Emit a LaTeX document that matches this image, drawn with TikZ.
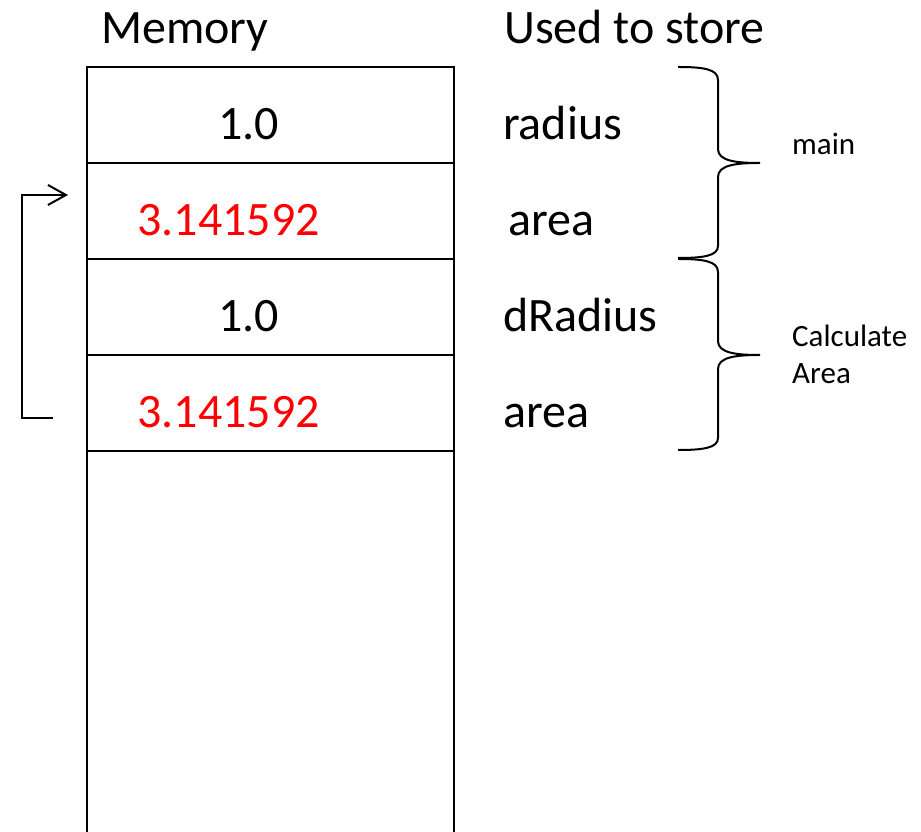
\documentclass[tikz,border=0pt]{standalone}
\usepackage{fontspec}
\setmainfont{Carlito}
\usetikzlibrary{positioning, arrows.meta}

\begin{document}
\begin{tikzpicture}[x=1pt, y=1pt,
    cell/.style={draw, line width=2.8pt, minimum width=367pt, minimum height=96pt,
      inner sep=0pt, outer sep=0pt},
    big/.style={font=\fontsize{48}{58}\selectfont, inner sep=0pt},
    small/.style={font=\fontsize{31}{37}\selectfont, inner sep=0pt, align=left},
    val/.style={big, anchor=base},
    var/.style={big, anchor=base west},
    brace/.style={line width=2pt},
    back/.style={line width=2pt, -{Straight Barb[length=18pt, width=20pt]}}]

  \useasboundingbox (0,0) rectangle (921,832);

  % the stack of cells
  \node[cell] (c1) at (270.5,717) {};
  \node[cell, below=0pt of c1] (c2) {};
  \node[cell, below=0pt of c2] (c3) {};
  \node[cell, below=0pt of c3] (c4) {};
  \draw[line width=2.8pt] (c4.south west) -- (c4.south west |- 0,0);
  \draw[line width=2.8pt] (c4.south east) -- (c4.south east |- 0,0);

  % headings
  \node[var] (mem) at (101,788) {Memory};
  \node[var] (use) at (504,788) {Used to store};

  % values
  \node[val] (v1) at ([xshift=-22pt, yshift=-25pt]c1.center) {1.0};
  \node[val, text=red] (v2) at ([xshift=-42pt, yshift=-25pt]c2.center) {3.141592};
  \node[val] (v3) at ([xshift=-22pt, yshift=-25pt]c3.center) {1.0};
  \node[val, text=red] (v4) at ([xshift=-42pt, yshift=-25pt]c4.center) {3.141592};

  % variable names
  \node[var] (n1) at ([xshift=49pt, yshift=-25pt]c1.east) {radius};
  \node[var] (n2) at ([xshift=54pt, yshift=-25pt]c2.east) {area};
  \node[var] (n3) at ([xshift=49pt, yshift=-25pt]c3.east) {dRadius};
  \node[var] (n4) at ([xshift=49pt, yshift=-25pt]c4.east) {area};

  % braces
  \foreach \s in {0,-192} {
    \draw[brace, yshift=\s] (678,765) .. controls (703,765) and (718,763) .. (718,752)
      -- (718,683) .. controls (718,671) and (736,669) .. (760,669)
      .. controls (736,669) and (718,667) .. (718,655)
      -- (718,586) .. controls (718,576) and (703,574) .. (678,574);
  }
  \node[small, anchor=base west] (f1) at (792,677) {main};
  \node[small, anchor=base west] (f2) at (792,448) {Calculate\\Area};

  % return arrow
  \coordinate (ret) at ([xshift=-34pt, yshift=-15pt]c4.west);
  \coordinate (call) at ([xshift=-19pt, yshift=16pt]c2.west);
  \draw[back] (ret) -| ([xshift=-46pt]call) -- (call);

\end{tikzpicture}
\end{document}
